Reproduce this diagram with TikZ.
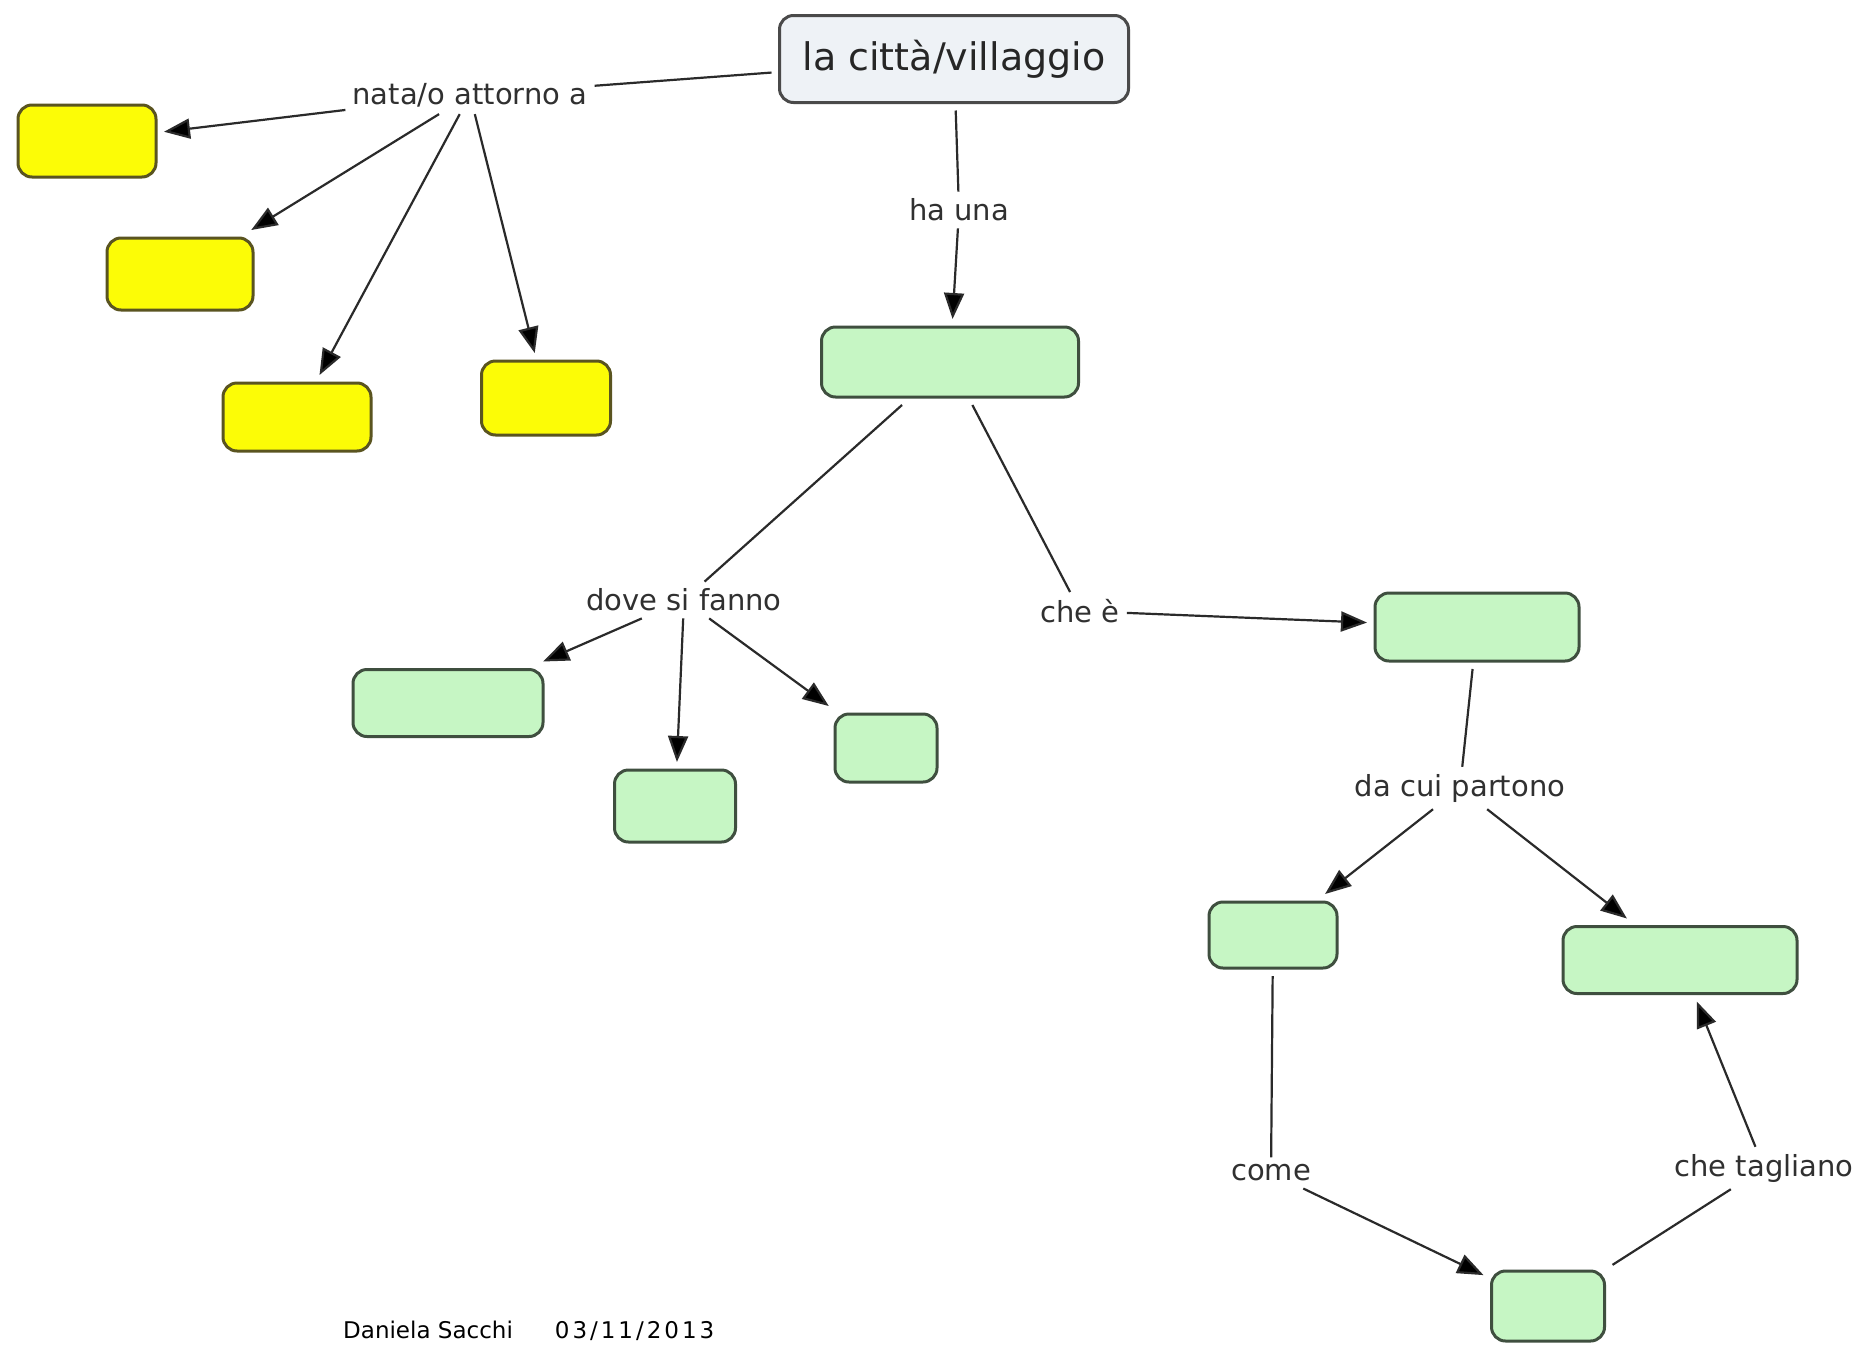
\documentclass[tikz,border=0pt]{standalone}
\usepackage{fontspec}
\setmainfont{DejaVu Sans}
\usetikzlibrary{arrows.meta}
\definecolor{yfill}{HTML}{FCFC06}
\definecolor{yborder}{HTML}{5A5420}
\definecolor{gfill}{HTML}{C6F6C4}
\definecolor{gborder}{HTML}{3F4F3F}
\definecolor{tfill}{HTML}{EEF2F6}
\definecolor{tborder}{HTML}{4A4A4A}
\definecolor{txt}{HTML}{303030}
\definecolor{lc}{HTML}{2A2A2A}
\begin{document}
\begin{tikzpicture}[x=1pt,y=-1pt,
  concept/.style={rounded corners=14pt, line width=3pt, outer sep=8pt, inner sep=0pt},
  ybox/.style={concept, draw=yborder, fill=yfill},
  gbox/.style={concept, draw=gborder, fill=gfill},
  lnk/.style={font=\fontsize{29}{34}\selectfont, text=txt, inner sep=7pt},
  con/.style={draw=lc, line width=2.2pt},
  arr/.style={con, -{Triangle[length=26pt,width=20pt,fill=black]}}]
\useasboundingbox (0,0) rectangle (1863,1344);
\clip (0,0) rectangle (1863,1344);
\fill[white] (0,0) rectangle (1863,1344);

% concepts
\node[concept, draw=tborder, fill=tfill, minimum width=349pt, minimum height=87pt,
      font=\fontsize{38}{44}\selectfont, text=black!85] (top) at (954,59) {la città/villaggio};
\node[ybox, minimum width=138pt, minimum height=72pt] (y1) at (87,141) {};
\node[ybox, minimum width=146pt, minimum height=72pt] (y2) at (180,274) {};
\node[ybox, minimum width=148pt, minimum height=68pt] (y3) at (297,417) {};
\node[ybox, minimum width=129pt, minimum height=74pt] (y4) at (546,398) {};

\node[gbox, minimum width=257pt, minimum height=70pt] (g1) at (950,362) {};
\node[gbox, minimum width=204pt, minimum height=68pt] (g2) at (1477,627) {};
\node[gbox, minimum width=190pt, minimum height=67pt] (g3) at (448,703) {};
\node[gbox, minimum width=121pt, minimum height=72pt] (g4) at (675,806) {};
\node[gbox, minimum width=102pt, minimum height=68pt] (g5) at (886,748) {};
\node[gbox, minimum width=128pt, minimum height=66pt] (g6) at (1273,935) {};
\node[gbox, minimum width=234pt, minimum height=67pt] (g7) at (1680,960) {};
\node[gbox, minimum width=113pt, minimum height=70pt] (g8) at (1548,1306) {};

% linking phrases
\node[lnk] (nata) at (470,95) {nata/o attorno a};
\node[lnk] (haun) at (959,210) {ha una};
\node[lnk] (dove) at (684,600) {dove si fanno};
\node[lnk] (chee) at (1080,611) {che è};
\node[lnk] (dacui) at (1460,788) {da cui partono};
\node[lnk] (come) at (1271,1173) {come};
\node[lnk] (tagl) at (1764,1168) {che tagliano};

% connectors
\draw[con] (top) -- (nata);
\draw[arr] (nata) -- (y1);
\draw[arr] (nata) -- (y2);
\draw[arr] (nata) -- (y3);
\draw[arr] (nata) -- (y4);

\draw[con] (top) -- (haun);
\draw[arr] (haun) -- (g1);

\draw[con] (g1) -- (dove);
\draw[arr] (dove) -- (g3);
\draw[arr] (dove) -- (g4);
\draw[arr] (dove) -- (g5);

\draw[con] (g1) -- (chee);
\draw[arr] (chee) -- (g2);

\draw[con] (g2) -- (dacui);
\draw[arr] (dacui) -- (g6);
\draw[arr] (dacui) -- (g7);

\draw[con] (g6) -- (come);
\draw[arr] (come) -- (g8);

\draw[con] (g8) -- (tagl);
\draw[arr] (tagl) -- (g7);

% footer
\node[anchor=base west, font=\fontsize{23}{27}\selectfont, text=black, inner sep=0pt] (foot)
  at (343,1338) {Daniela Sacchi\hspace{42pt}{\addfontfeatures{LetterSpace=13}03/11/2013}};
\end{tikzpicture}
\end{document}
